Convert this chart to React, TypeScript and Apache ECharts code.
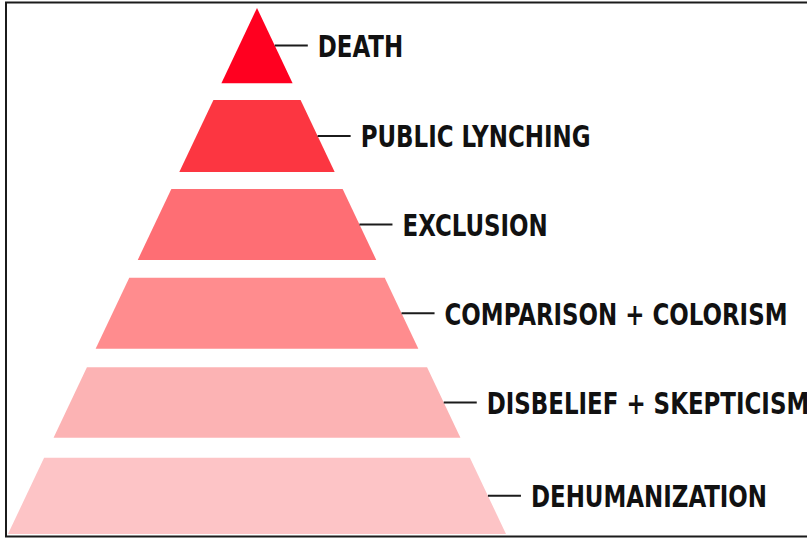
import React, { useEffect, useRef } from "react";
import * as echarts from "echarts";

// Pyramid levels, top to bottom
const labels = [
  "DEATH",
  "PUBLIC LYNCHING",
  "EXCLUSION",
  "COMPARISON + COLORISM",
  "DISBELIEF + SKEPTICISM",
  "DEHUMANIZATION",
];
const colors = ["#FF0020", "#FC3641", "#FE6E74", "#FF8C8E", "#FCB3B4", "#FDC4C6"];
// vertical extent of each level, in % of the pyramid height (0 = base, 100 = apex)
const layerTop = [100, 82.5, 65.6, 48.7, 31.7, 14.5];
const layerBottom = [85.7, 68.8, 52.1, 35.2, 18.3, 0];

export default function App() {
  const ref = useRef<HTMLDivElement>(null);
  useEffect(() => {
    if (!ref.current) return;
    const chart = echarts.init(ref.current, null, { renderer: "svg" });
    const data = labels.map((name, i) => ({
      name,
      value: [i, layerBottom[i], layerTop[i]],
      itemStyle: { color: colors[i] },
    }));
    chart.setOption({
      animation: false,
      backgroundColor: "#ffffff",
      grid: { left: 8, top: 8, width: 498, height: 526 },
      xAxis: { type: "value", min: -100, max: 100, show: false },
      yAxis: { type: "value", min: 0, max: 100, show: false },
      graphic: [
        {
          type: "rect",
          shape: { x: 6, y: 2.5, width: 830, height: 534 },
          style: { fill: "none", stroke: "#1b1b1b", lineWidth: 2 },
          silent: true,
        },
      ],
      series: [
        {
          type: "custom",
          data,
          renderItem: (params: any, api: any) => {
            const i = api.value(0);
            const b = api.value(1);
            const t = api.value(2);
            const p1 = api.coord([-(100 - t), t]);
            const p2 = api.coord([100 - t, t]);
            const p3 = api.coord([100 - b, b]);
            const p4 = api.coord([-(100 - b), b]);
            const m = (t + b) / 2;
            const e = api.coord([100 - m, m]);
            const lineLen = 33;
            return {
              type: "group",
              children: [
                {
                  type: "polygon",
                  shape: { points: [p1, p2, p3, p4] },
                  style: { fill: colors[i] },
                },
                {
                  type: "line",
                  shape: { x1: e[0], y1: e[1], x2: e[0] + lineLen, y2: e[1] },
                  style: { stroke: "#1b1b1b", lineWidth: 2 },
                },
                {
                  type: "text",
                  x: e[0] + lineLen + 10,
                  y: e[1] + 1,
                  scaleX: 0.85,
                  style: {
                    text: labels[i],
                    x: 0,
                    y: 0,
                    fill: "#111111",
                    fontFamily: "'DejaVu Sans Condensed', 'DejaVu Sans', sans-serif",
                    fontWeight: "bold",
                    fontSize: 30,
                    align: "left",
                    verticalAlign: "middle",
                  },
                },
              ],
            };
          },
        },
      ],
    });
    return () => chart.dispose();
  }, []);
  return (
    <div
      ref={ref}
      style={{ position: "fixed", left: 0, top: 0, width: 807, height: 539 }}
    />
  );
}
